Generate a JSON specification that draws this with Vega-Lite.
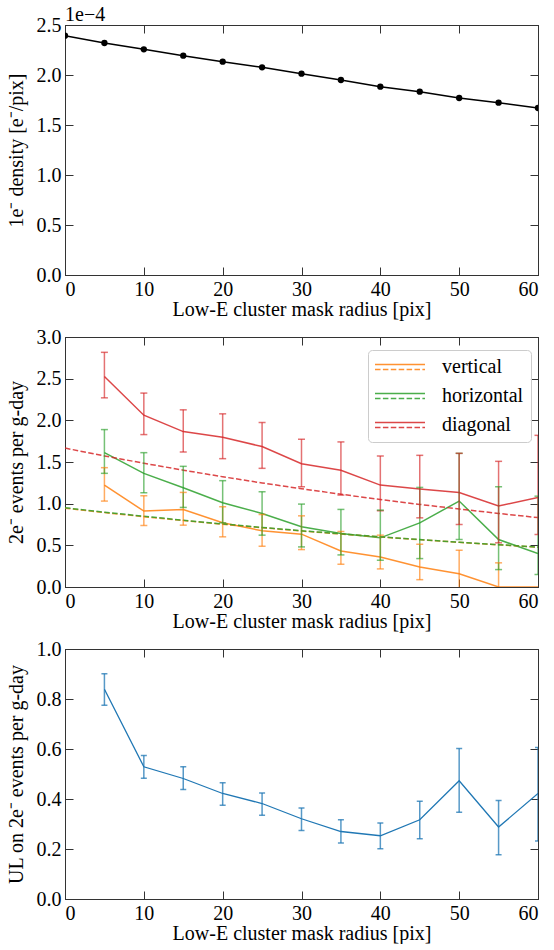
{
  "$schema": "https://vega.github.io/schema/vega-lite/v6.json",
  "padding": {"left": 5, "top": 4, "right": 5, "bottom": 0},
  "spacing": 6,
  "datasets": {
    "density": [
      {"r": 0, "d": 2.393}, {"r": 5, "d": 2.32}, {"r": 10, "d": 2.257}, {"r": 15, "d": 2.193},
      {"r": 20, "d": 2.133}, {"r": 25, "d": 2.077}, {"r": 30, "d": 2.013}, {"r": 35, "d": 1.95},
      {"r": 40, "d": 1.883}, {"r": 45, "d": 1.833}, {"r": 50, "d": 1.77}, {"r": 55, "d": 1.723},
      {"r": 60, "d": 1.67}
    ],
    "events": [
      {"r": 5, "series": "vertical", "v": 1.223, "lo": 1.031, "hi": 1.432},
      {"r": 10, "series": "vertical", "v": 0.911, "lo": 0.738, "hi": 1.095},
      {"r": 15, "series": "vertical", "v": 0.931, "lo": 0.742, "hi": 1.135},
      {"r": 20, "series": "vertical", "v": 0.77, "lo": 0.602, "hi": 0.963},
      {"r": 25, "series": "vertical", "v": 0.674, "lo": 0.489, "hi": 0.87},
      {"r": 30, "series": "vertical", "v": 0.634, "lo": 0.449, "hi": 0.854},
      {"r": 35, "series": "vertical", "v": 0.433, "lo": 0.273, "hi": 0.666},
      {"r": 40, "series": "vertical", "v": 0.361, "lo": 0.217, "hi": 0.622},
      {"r": 45, "series": "vertical", "v": 0.241, "lo": 0.088, "hi": 0.513},
      {"r": 50, "series": "vertical", "v": 0.16, "lo": -0.12, "hi": 0.441},
      {"r": 55, "series": "vertical", "v": 0.0, "lo": -0.28, "hi": 0.29},
      {"r": 60, "series": "vertical", "v": 0.0, "lo": null, "hi": null},
      {"r": 5, "series": "horizontal", "v": 1.612, "lo": 1.364, "hi": 1.889},
      {"r": 10, "series": "horizontal", "v": 1.364, "lo": 1.131, "hi": 1.612},
      {"r": 15, "series": "horizontal", "v": 1.191, "lo": 0.955, "hi": 1.448},
      {"r": 20, "series": "horizontal", "v": 1.011, "lo": 0.77, "hi": 1.276},
      {"r": 25, "series": "horizontal", "v": 0.882, "lo": 0.622, "hi": 1.143},
      {"r": 30, "series": "horizontal", "v": 0.722, "lo": 0.481, "hi": 0.995},
      {"r": 35, "series": "horizontal", "v": 0.642, "lo": 0.385, "hi": 0.931},
      {"r": 40, "series": "horizontal", "v": 0.59, "lo": 0.321, "hi": 0.923},
      {"r": 45, "series": "horizontal", "v": 0.77, "lo": 0.341, "hi": 1.195},
      {"r": 50, "series": "horizontal", "v": 1.031, "lo": 0.57, "hi": 1.604},
      {"r": 55, "series": "horizontal", "v": 0.57, "lo": 0.209, "hi": 1.203},
      {"r": 60, "series": "horizontal", "v": 0.401, "lo": 0.15, "hi": 1.09},
      {"r": 5, "series": "diagonal", "v": 2.527, "lo": 2.27, "hi": 2.816},
      {"r": 10, "series": "diagonal", "v": 2.062, "lo": 1.829, "hi": 2.327},
      {"r": 15, "series": "diagonal", "v": 1.865, "lo": 1.62, "hi": 2.126},
      {"r": 20, "series": "diagonal", "v": 1.797, "lo": 1.54, "hi": 2.078},
      {"r": 25, "series": "diagonal", "v": 1.685, "lo": 1.424, "hi": 1.974},
      {"r": 30, "series": "diagonal", "v": 1.48, "lo": 1.203, "hi": 1.773},
      {"r": 35, "series": "diagonal", "v": 1.4, "lo": 1.103, "hi": 1.741},
      {"r": 40, "series": "diagonal", "v": 1.223, "lo": 0.915, "hi": 1.572},
      {"r": 45, "series": "diagonal", "v": 1.175, "lo": 0.83, "hi": 1.58},
      {"r": 50, "series": "diagonal", "v": 1.135, "lo": 0.75, "hi": 1.604},
      {"r": 55, "series": "diagonal", "v": 0.971, "lo": 0.53, "hi": 1.508},
      {"r": 60, "series": "diagonal", "v": 1.075, "lo": 0.63, "hi": 1.82}
    ],
    "fits": [
      {"r": 0, "series": "vertical", "f": 0.945}, {"r": 5, "series": "vertical", "f": 0.893},
      {"r": 10, "series": "vertical", "f": 0.844}, {"r": 15, "series": "vertical", "f": 0.797},
      {"r": 20, "series": "vertical", "f": 0.753}, {"r": 25, "series": "vertical", "f": 0.711},
      {"r": 30, "series": "vertical", "f": 0.672}, {"r": 35, "series": "vertical", "f": 0.635},
      {"r": 40, "series": "vertical", "f": 0.6}, {"r": 45, "series": "vertical", "f": 0.567},
      {"r": 50, "series": "vertical", "f": 0.536}, {"r": 55, "series": "vertical", "f": 0.506},
      {"r": 60, "series": "vertical", "f": 0.478},
      {"r": 0, "series": "horizontal", "f": 0.951}, {"r": 5, "series": "horizontal", "f": 0.898},
      {"r": 10, "series": "horizontal", "f": 0.849}, {"r": 15, "series": "horizontal", "f": 0.801},
      {"r": 20, "series": "horizontal", "f": 0.757}, {"r": 25, "series": "horizontal", "f": 0.715},
      {"r": 30, "series": "horizontal", "f": 0.675}, {"r": 35, "series": "horizontal", "f": 0.638},
      {"r": 40, "series": "horizontal", "f": 0.602}, {"r": 45, "series": "horizontal", "f": 0.569},
      {"r": 50, "series": "horizontal", "f": 0.537}, {"r": 55, "series": "horizontal", "f": 0.508},
      {"r": 60, "series": "horizontal", "f": 0.479},
      {"r": 0, "series": "diagonal", "f": 1.667}, {"r": 5, "series": "diagonal", "f": 1.573},
      {"r": 10, "series": "diagonal", "f": 1.485}, {"r": 15, "series": "diagonal", "f": 1.402},
      {"r": 20, "series": "diagonal", "f": 1.323}, {"r": 25, "series": "diagonal", "f": 1.249},
      {"r": 30, "series": "diagonal", "f": 1.179}, {"r": 35, "series": "diagonal", "f": 1.113},
      {"r": 40, "series": "diagonal", "f": 1.05}, {"r": 45, "series": "diagonal", "f": 0.991},
      {"r": 50, "series": "diagonal", "f": 0.936}, {"r": 55, "series": "diagonal", "f": 0.883},
      {"r": 60, "series": "diagonal", "f": 0.833}
    ],
    "ul": [
      {"r": 5, "v": 0.839, "lo": 0.775, "hi": 0.901},
      {"r": 10, "v": 0.529, "lo": 0.483, "hi": 0.574},
      {"r": 15, "v": 0.482, "lo": 0.438, "hi": 0.529},
      {"r": 20, "v": 0.422, "lo": 0.375, "hi": 0.465},
      {"r": 25, "v": 0.382, "lo": 0.335, "hi": 0.424},
      {"r": 30, "v": 0.321, "lo": 0.274, "hi": 0.364},
      {"r": 35, "v": 0.27, "lo": 0.224, "hi": 0.317},
      {"r": 40, "v": 0.253, "lo": 0.201, "hi": 0.304},
      {"r": 45, "v": 0.317, "lo": 0.241, "hi": 0.391},
      {"r": 50, "v": 0.473, "lo": 0.347, "hi": 0.602},
      {"r": 55, "v": 0.288, "lo": 0.177, "hi": 0.394},
      {"r": 60, "v": 0.422, "lo": 0.232, "hi": 0.606}
    ]
  },
  "vconcat": [
    {
      "width": 473, "height": 250,
      "title": {"text": "1e−4", "anchor": "start", "frame": "group", "font": "Liberation Serif", "fontSize": 20, "fontWeight": "normal", "color": "#000", "offset": -10},
      "data": {"name": "density"},
      "resolve": {"axis": {"x": "independent", "y": "independent"}},
      "layer": [
        {
          "mark": {"type": "line", "color": "#000", "strokeWidth": 1.5, "clip": true},
          "encoding": {
            "x": {"field": "r", "type": "quantitative", "scale": {"domain": [0, 60], "nice": false},
                  "axis": {"values": [0, 10, 20, 30, 40, 50, 60], "format": "d", "title": "Low-E cluster mask radius [pix]"}},
            "y": {"field": "d", "type": "quantitative", "scale": {"domain": [0, 2.5], "nice": false},
                  "axis": {"values": [0, 0.5, 1, 1.5, 2, 2.5], "format": ".1f", "title": "1e⁻ density [e⁻/pix]", "titlePadding": 10}}
          }
        },
        {
          "mark": {"type": "point", "filled": true, "color": "#000", "size": 40, "opacity": 1, "clip": true},
          "encoding": {
            "x": {"field": "r", "type": "quantitative",
                  "axis": {"orient": "top", "values": [0, 10, 20, 30, 40, 50, 60], "labels": false, "title": null}},
            "y": {"field": "d", "type": "quantitative",
                  "axis": {"orient": "right", "values": [0, 0.5, 1, 1.5, 2, 2.5], "labels": false, "title": null}}
          }
        }
      ]
    },
    {
      "width": 473, "height": 250,
      "resolve": {"axis": {"x": "independent", "y": "independent"}},
      "layer": [
        {
          "data": {"name": "events"},
          "mark": {"type": "line", "strokeWidth": 1.5, "opacity": 0.85, "clip": true},
          "encoding": {
            "x": {"field": "r", "type": "quantitative", "scale": {"domain": [0, 60], "nice": false},
                  "axis": {"values": [0, 10, 20, 30, 40, 50, 60], "format": "d", "title": "Low-E cluster mask radius [pix]"}},
            "y": {"field": "v", "type": "quantitative", "scale": {"domain": [0, 3], "nice": false},
                  "axis": {"values": [0, 0.5, 1, 1.5, 2, 2.5, 3], "format": ".1f", "title": "2e⁻  events per g-day", "titlePadding": 10}},
            "color": {"field": "series", "type": "nominal",
                      "scale": {"domain": ["vertical", "horizontal", "diagonal"], "range": ["#ff7f0e", "#2ca02c", "#d62728"]},
                      "legend": {"orient": "none", "legendX": 303, "legendY": 325, "title": null,
                                 "symbolType": "M-5,-1.2L20,-1.2M-5,1.2L-2.25,1.2M-1.05,1.2L1.7,1.2M2.9,1.2L5.65,1.2M6.85,1.2L9.6,1.2M10.8,1.2L13.55,1.2M14.75,1.2L17.5,1.2M18.7,1.2L20,1.2",
                                 "symbolSize": 16, "symbolStrokeWidth": 1.5, "symbolFillColor": "transparent",
                                 "labelFont": "Liberation Serif", "labelFontSize": 20, "labelColor": "#000",
                                 "labelOffset": 47, "rowPadding": 9, "padding": 7,
                                 "strokeColor": "#cccccc", "fillColor": "rgba(255,255,255,0.8)", "cornerRadius": 4}}
          }
        },
        {
          "data": {"name": "fits"},
          "mark": {"type": "line", "strokeWidth": 1.5, "strokeDash": [5.5, 2.4], "opacity": 0.85, "clip": true},
          "encoding": {
            "x": {"field": "r", "type": "quantitative", "axis": null},
            "y": {"field": "f", "type": "quantitative", "axis": null},
            "color": {"field": "series", "type": "nominal"}
          }
        },
        {
          "data": {"name": "events"},
          "transform": [{"filter": "datum.hi != null"}],
          "mark": {"type": "rule", "strokeWidth": 1.5, "opacity": 0.65, "clip": true},
          "encoding": {
            "x": {"field": "r", "type": "quantitative",
                  "axis": {"orient": "top", "values": [0, 10, 20, 30, 40, 50, 60], "labels": false, "title": null}},
            "y": {"field": "lo", "type": "quantitative",
                  "axis": {"orient": "right", "values": [0, 0.5, 1, 1.5, 2, 2.5, 3], "labels": false, "title": null}},
            "y2": {"field": "hi"},
            "color": {"field": "series", "type": "nominal"}
          }
        },
        {
          "data": {"name": "events"},
          "transform": [{"filter": "datum.hi != null"}],
          "mark": {"type": "tick", "orient": "horizontal", "size": 7, "thickness": 1.5, "opacity": 0.65, "clip": true},
          "encoding": {
            "x": {"field": "r", "type": "quantitative", "axis": null},
            "y": {"field": "lo", "type": "quantitative", "axis": null},
            "color": {"field": "series", "type": "nominal"}
          }
        },
        {
          "data": {"name": "events"},
          "transform": [{"filter": "datum.hi != null"}],
          "mark": {"type": "tick", "orient": "horizontal", "size": 7, "thickness": 1.5, "opacity": 0.65, "clip": true},
          "encoding": {
            "x": {"field": "r", "type": "quantitative", "axis": null},
            "y": {"field": "hi", "type": "quantitative", "axis": null},
            "color": {"field": "series", "type": "nominal"}
          }
        }
      ]
    },
    {
      "width": 473, "height": 250,
      "data": {"name": "ul"},
      "resolve": {"axis": {"x": "independent", "y": "independent"}},
      "layer": [
        {
          "mark": {"type": "line", "color": "#1f77b4", "strokeWidth": 1.3, "clip": true},
          "encoding": {
            "x": {"field": "r", "type": "quantitative", "scale": {"domain": [0, 60], "nice": false},
                  "axis": {"values": [0, 10, 20, 30, 40, 50, 60], "format": "d", "title": "Low-E cluster mask radius [pix]"}},
            "y": {"field": "v", "type": "quantitative", "scale": {"domain": [0, 1], "nice": false},
                  "axis": {"values": [0, 0.2, 0.4, 0.6, 0.8, 1], "format": ".1f", "title": "UL on 2e⁻  events per g-day", "titlePadding": 10}}
          }
        },
        {
          "mark": {"type": "rule", "color": "#1f77b4", "strokeWidth": 1.5, "opacity": 0.75, "clip": true},
          "encoding": {
            "x": {"field": "r", "type": "quantitative",
                  "axis": {"orient": "top", "values": [0, 10, 20, 30, 40, 50, 60], "labels": false, "title": null}},
            "y": {"field": "lo", "type": "quantitative",
                  "axis": {"orient": "right", "values": [0, 0.2, 0.4, 0.6, 0.8, 1], "labels": false, "title": null}},
            "y2": {"field": "hi"}
          }
        },
        {
          "mark": {"type": "tick", "orient": "horizontal", "color": "#1f77b4", "size": 6, "thickness": 1.5, "opacity": 0.75, "clip": true},
          "encoding": {
            "x": {"field": "r", "type": "quantitative", "axis": null},
            "y": {"field": "lo", "type": "quantitative", "axis": null}
          }
        },
        {
          "mark": {"type": "tick", "orient": "horizontal", "color": "#1f77b4", "size": 6, "thickness": 1.5, "opacity": 0.75, "clip": true},
          "encoding": {
            "x": {"field": "r", "type": "quantitative", "axis": null},
            "y": {"field": "hi", "type": "quantitative", "axis": null}
          }
        }
      ]
    }
  ],
  "config": {
    "font": "Liberation Serif",
    "view": {"stroke": "#333333", "strokeWidth": 1},
    "axis": {
      "grid": false,
      "labelFont": "Liberation Serif", "titleFont": "Liberation Serif",
      "labelFontSize": 20, "titleFontSize": 20, "titleFontWeight": "normal",
      "labelColor": "#000", "titleColor": "#000",
      "domainColor": "#333333", "domainWidth": 1,
      "tickColor": "#333333", "tickWidth": 1, "tickSize": -8,
      "labelPadding": 12, "titlePadding": 0
    }
  }
}
